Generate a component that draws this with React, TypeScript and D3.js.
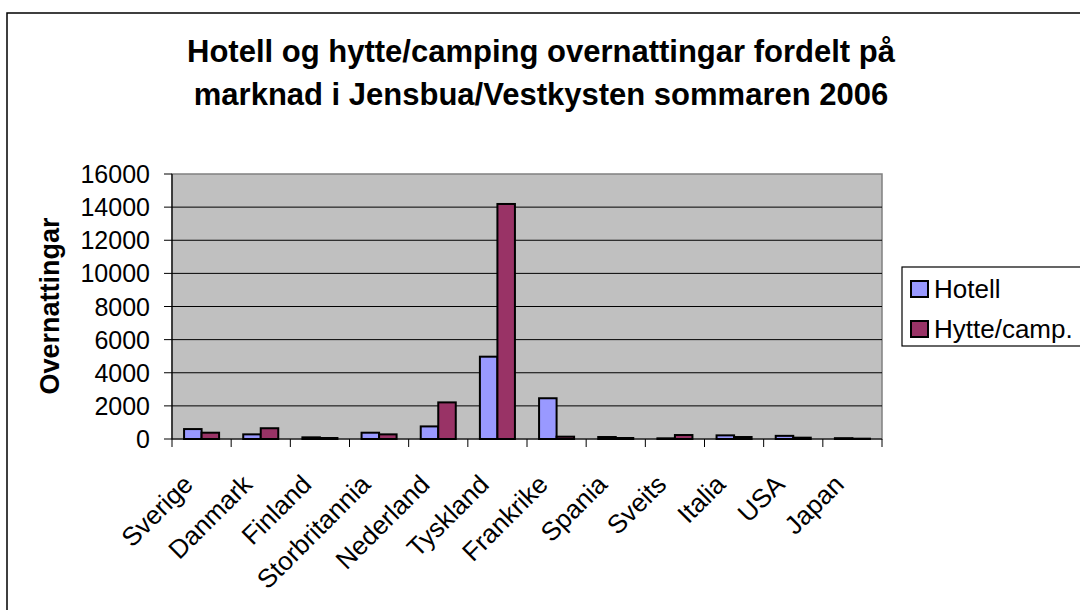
import React from "react";
import * as d3 from "d3";

const categories = ["Sverige","Danmark","Finland","Storbritannia","Nederland","Tyskland","Frankrike","Spania","Sveits","Italia","USA","Japan"];
const hotell = [600, 280, 100, 380, 760, 4970, 2460, 120, 40, 220, 190, 50];
const hytte = [380, 650, 60, 280, 2210, 14190, 140, 60, 240, 120, 80, 20];
const yTicks = [0, 2000, 4000, 6000, 8000, 10000, 12000, 14000, 16000];
const seriesNames = ["Hotell", "Hytte/camp."];
const seriesColors = ["#9999FF", "#993366"];
const titleLines = ["Hotell og hytte/camping overnattingar fordelt på", "marknad i Jensbua/Vestkysten sommaren 2006"];

const FONT = "'Liberation Sans', Arial, sans-serif";

export default function App() {
  const left = 172, right = 882, top = 174, bottom = 439;
  const x = d3.scaleBand<string>().domain(categories).range([left, right]).paddingInner(0).paddingOuter(0);
  const y = d3.scaleLinear().domain([0, 16000]).range([bottom, top]);
  const bw = x.bandwidth();
  const barW = bw * 0.296;
  const series = [hotell, hytte];
  return (
    <svg width={1080} height={610} style={{ position: "absolute", left: 0, top: 0, background: "#fff" }} fontFamily={FONT}>
      <rect x={7} y={13} width={1200} height={800} fill="#fff" stroke="#000" strokeWidth={1.5} />
      {titleLines.map((t, i) => (
        <text key={i} x={541} y={62 + i * 43} textAnchor="middle" fontSize={31} fontWeight="bold">{t}</text>
      ))}
      <rect x={left} y={top} width={right - left} height={bottom - top} fill="#C0C0C0" stroke="#808080" strokeWidth={1.5} />
      {yTicks.map((t) => (
        <g key={t}>
          {t > 0 && t < 16000 && <line x1={left} x2={right} y1={y(t)} y2={y(t)} stroke="#000" strokeWidth={1} />}
          <line x1={left - 8} x2={left} y1={y(t)} y2={y(t)} stroke="#000" strokeWidth={1} />
          <text x={150} y={y(t)} dy="0.36em" textAnchor="end" fontSize={25}>{t}</text>
        </g>
      ))}
      {categories.map((c, i) => (
        <g key={c}>
          {series.map((s, j) => (
            <rect key={j} x={(x(c) as number) + bw / 2 - barW + j * barW} y={y(s[i])} width={barW} height={bottom - y(s[i])} fill={seriesColors[j]} stroke="#000" strokeWidth={2} />
          ))}
        </g>
      ))}
      <line x1={left} x2={left} y1={top} y2={bottom} stroke="#000" strokeWidth={1.2} />
      <line x1={left} x2={right} y1={bottom} y2={bottom} stroke="#000" strokeWidth={1.2} />
      {[...categories.map((c) => x(c) as number), right].map((p, i) => (
        <line key={i} x1={p} x2={p} y1={bottom} y2={bottom + 8} stroke="#000" strokeWidth={1} />
      ))}
      {categories.map((c) => {
        const cx = (x(c) as number) + bw / 2 - 7;
        const cy = 486;
        return (
          <text key={c} x={cx} y={cy} transform={`rotate(-45 ${cx} ${cy})`} textAnchor="end" fontSize={26}>{c}</text>
        );
      })}
      <text transform="translate(59,306) rotate(-90)" textAnchor="middle" fontSize={27} fontWeight="bold">Overnattingar</text>
      <rect x={902} y={267} width={300} height={79} fill="#fff" stroke="#000" strokeWidth={1.2} />
      {seriesNames.map((n, i) => (
        <g key={n}>
          <rect x={911} y={281 + i * 40} width={17} height={16} fill={seriesColors[i]} stroke="#000" strokeWidth={2} />
          <text x={934} y={298 + i * 40} fontSize={26}>{n}</text>
        </g>
      ))}
    </svg>
  );
}
